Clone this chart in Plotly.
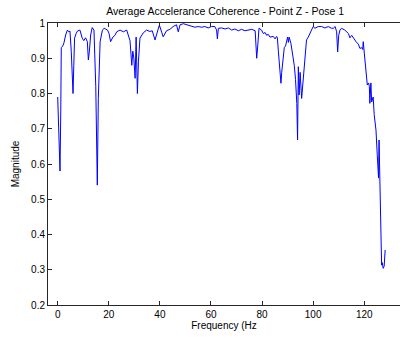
import plotly.graph_objects as go

freq = [0, 0.3, 0.6, 0.9, 1.2, 1.4, 2.0, 2.5, 3.1, 3.8, 4.3, 4.8, 5.3, 5.7, 6.0, 6.3, 6.6, 7.2, 7.7, 8.7,
        9.6, 10.2, 10.9, 11.6, 12.0, 12.4, 12.9, 13.5, 14.2, 14.9, 15.3, 15.5, 15.9, 16.6, 17.5, 18.2, 19.5,
        20.1, 20.7, 21.6, 22.4, 23.1, 24.4, 25.7, 27.0, 27.6, 28.3, 29.0, 29.4, 29.8, 30.3, 30.7, 31.2, 31.6,
        32.2, 33.5, 34.8, 36.1, 37.0, 38.1, 38.7, 39.8, 40.7, 41.3, 42.6, 43.9, 45.2, 46.5, 47.2, 47.9, 49.2,
        50.5, 51.1, 52.4, 53.7, 55.0, 56.3, 57.6, 58.9, 60.2, 61.5, 62.2, 62.5, 62.9, 64.2, 65.5, 66.8, 68.1,
        69.4, 70.7, 72.0, 73.3, 74.7, 76.0, 77.3, 77.5, 77.9, 78.3, 78.8, 79.8, 80.5, 81.2, 81.8, 82.4, 83.1,
        84.4, 85.1, 85.7, 86.0, 86.4, 86.8, 87.4, 87.7, 88.3, 88.7, 89.2, 89.6, 90.0, 90.3, 90.6, 91.3, 91.8,
        92.6, 93.1, 93.6, 93.9, 94.2, 94.5, 94.9, 95.5, 95.9, 96.5, 97.0, 97.4, 98.1, 98.7, 99.4, 100.0, 100.7,
        102.0, 103.3, 104.6, 105.9, 107.2, 107.9, 108.6, 109.2, 109.6, 110.0, 110.5, 111.1, 112.4, 113.8,
        114.4, 115.1, 115.7, 116.8, 117.7, 118.3, 119.0, 119.4, 119.6, 120.0, 120.7, 121.2, 121.7, 122.0,
        122.2, 122.6, 122.9, 123.5, 123.9, 124.6, 125.1, 125.6, 125.8, 126.1, 126.4, 126.8, 127.1, 127.4,
        127.8, 128.2]

coherence = [0.79, 0.73, 0.65, 0.58, 0.75, 0.93, 0.935, 0.945, 0.966, 0.98, 0.975, 0.977, 0.92, 0.85, 0.80,
             0.88, 0.957, 0.97, 0.977, 0.98, 0.957, 0.95, 0.958, 0.947, 0.895, 0.92, 0.966, 0.987, 0.98, 0.82,
             0.63, 0.54, 0.786, 0.947, 0.98, 0.985, 0.98, 0.97, 0.947, 0.96, 0.965, 0.975, 0.98, 0.975, 0.98,
             0.966, 0.95, 0.88, 0.92, 0.90, 0.843, 0.96, 0.80, 0.89, 0.957, 0.972, 0.98, 0.976, 0.978, 0.952,
             0.968, 0.994, 0.974, 0.961, 0.978, 0.982, 0.99, 0.995, 0.975, 0.995, 0.998, 0.995, 0.992, 0.99,
             0.988, 0.99, 0.988, 0.99, 0.986, 0.99, 0.99, 0.98, 0.955, 0.985, 0.986, 0.983, 0.986, 0.98, 0.983,
             0.978, 0.982, 0.978, 0.979, 0.982, 0.978, 0.947, 0.90, 0.935, 0.985, 0.98, 0.97, 0.973, 0.965,
             0.968, 0.96, 0.962, 0.955, 0.962, 0.958, 0.918, 0.88, 0.829, 0.86, 0.918, 0.93, 0.935, 0.952,
             0.96, 0.945, 0.96, 0.942, 0.918, 0.88, 0.84, 0.772, 0.668, 0.876, 0.796, 0.86, 0.786, 0.82,
             0.853, 0.91, 0.952, 0.96, 0.97, 0.98, 0.99, 0.985, 0.99, 0.99, 0.986, 0.99, 0.985, 0.985, 0.99,
             0.975, 0.918, 0.965, 0.98, 0.985, 0.98, 0.97, 0.958, 0.965, 0.958, 0.947, 0.94, 0.928, 0.93,
             0.925, 0.947, 0.915, 0.871, 0.824, 0.83, 0.82, 0.772, 0.83, 0.776, 0.79, 0.74, 0.696, 0.625,
             0.56, 0.668, 0.57, 0.408, 0.313, 0.32, 0.304, 0.31, 0.356]

x_ticks = [0, 20, 40, 60, 80, 100, 120]
y_ticks = [0.2, 0.3, 0.4, 0.5, 0.6, 0.7, 0.8, 0.9, 1.0]
y_tick_labels = ["0.2", "0.3", "0.4", "0.5", "0.6", "0.7", "0.8", "0.9", "1"]

font_family = "Liberation Sans, Arial, Helvetica, sans-serif"

fig = go.Figure()
fig.add_trace(go.Scatter(x=freq, y=coherence, mode="lines",
                         line=dict(color="#0000ff", width=1), showlegend=False))

fig.update_layout(
    width=400, height=341,
    margin=dict(l=48, r=0, t=23, b=36, autoexpand=False),
    paper_bgcolor="white", plot_bgcolor="white",
    font=dict(family=font_family, size=10, color="#000000"),
    title=dict(text="Average Accelerance Coherence - Point Z - Pose 1",
               x=0.563, xanchor="center", y=0.968, yanchor="middle",
               font=dict(size=10.5, color="#000000")),
    xaxis=dict(range=[-3.8, 134.0], tickvals=x_ticks, ticks="inside", ticklen=4,
               showline=True, linecolor="#262626", linewidth=1, mirror="ticks",
               showgrid=False, zeroline=False, tickcolor="#262626", automargin=False,
               title=dict(text="Frequency (Hz", font=dict(size=10), standoff=0)),
    yaxis=dict(range=[0.2, 1.0], tickvals=y_ticks, ticktext=y_tick_labels, ticks="inside",
               ticklen=4, showline=True, linecolor="#262626", linewidth=1, mirror=False,
               showgrid=False, zeroline=False, tickcolor="#262626", automargin=False,
               title=dict(text="Magnitude", font=dict(size=10), standoff=9)),
)

fig.write_html("out.html", config={"displayModeBar": False},
               post_script="document.body.style.margin='0';document.body.style.overflow='hidden';")
